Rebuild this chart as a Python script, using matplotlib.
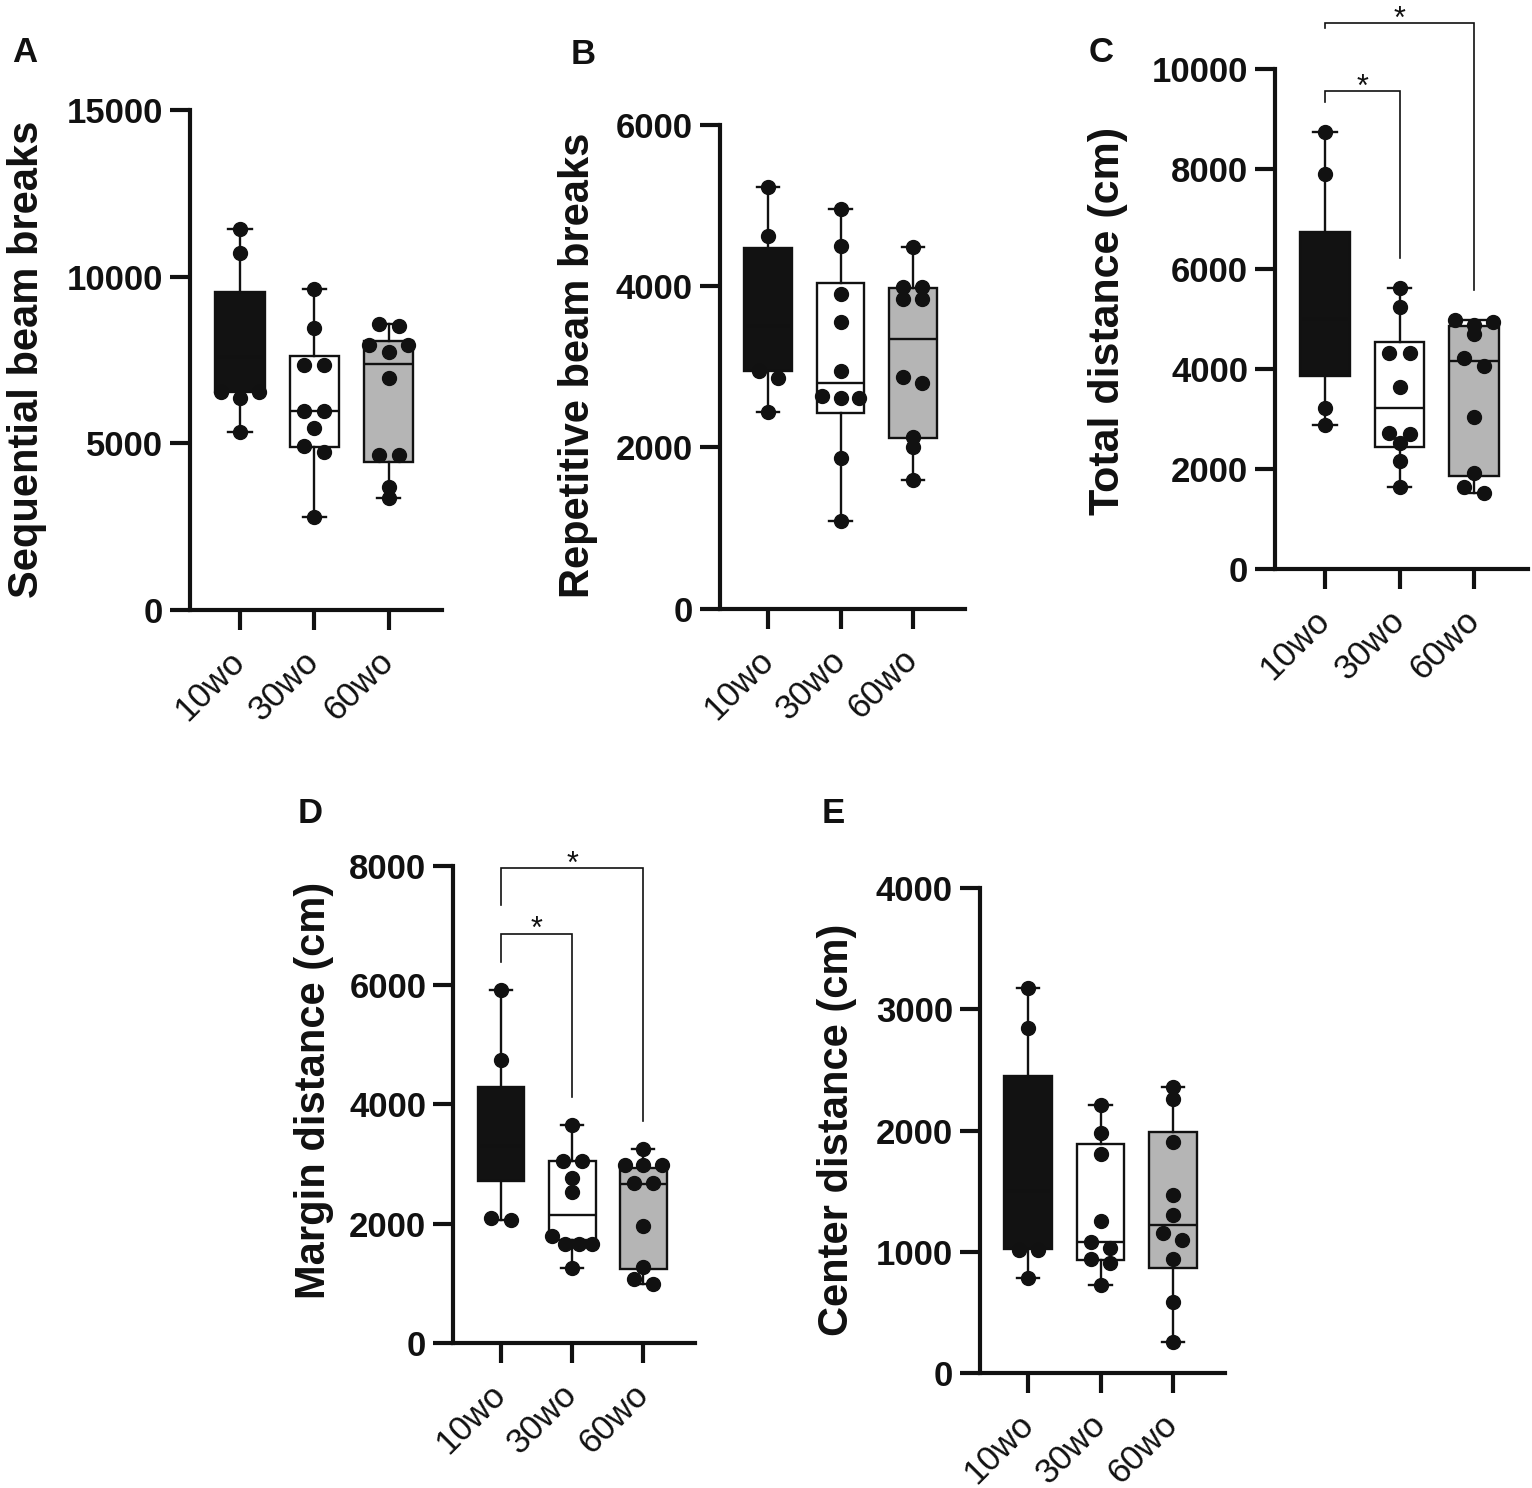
import numpy as np
import matplotlib
matplotlib.use("Agg")
import matplotlib.pyplot as plt

plt.rcParams['font.family'] = ['Liberation Sans', 'DejaVu Sans']

# ---------------- data ----------------
groups = ["10wo", "30wo", "60wo"]

# Panel A: Sequential beam breaks
A_10 = [11420, 10720, 6550, 6550, 6350, 5350]
A_30 = [9620, 8450, 7350, 7350, 5980, 5980, 5450, 4930, 4730, 2800]
A_60 = [8580, 8520, 7950, 7950, 7750, 6970, 4650, 4650, 3700, 3370]
A_q1 = [6550, 4900, 4430]
A_med = [7600, 5980, 7370]
A_q3 = [9550, 7620, 8070]

# Panel B: Repetitive beam breaks
B_10 = [5224, 4624, 2950, 2856, 2442]
B_30 = [4951, 4496, 3897, 3550, 2950, 2636, 2607, 2607, 1863, 1090]
B_60 = [4480, 3992, 3992, 3839, 3839, 2876, 2801, 2131, 2008, 1594]
B_q1 = [2950, 2421, 2112]
B_med = [3500, 2801, 3343]
B_q3 = [4467, 4033, 3971]

# Panel C: Total distance (cm)
C_10 = [8753, 7907, 3220, 2887]
C_30 = [5620, 5253, 4320, 4320, 3653, 2733, 2700, 2520, 2173, 1653]
C_60 = [4987, 4953, 4887, 4707, 4220, 4073, 3053, 1920, 1640, 1533]
C_q1 = [3867, 2453, 1867]
C_med = [5000, 3220, 4167]
C_q3 = [6753, 4540, 4867]

# Panel D: Margin distance (cm)
D_10 = [5916, 4742, 2090, 2060]
D_30 = [3653, 3055, 3055, 2760, 2536, 1793, 1654, 1654, 1654, 1251]
D_60 = [3246, 2983, 2983, 2983, 2686, 2686, 1960, 1278, 1067, 988]
D_q1 = [2720, 1726, 1240]
D_med = [3300, 2145, 2664]
D_q3 = [4285, 3055, 2927]

# Panel E: Center distance (cm)
E_10 = [3175, 2845, 1016, 1016, 782]
E_30 = [2212, 1978, 1808, 1255, 1084, 1030, 939, 906, 727]
E_60 = [2363, 2259, 1909, 1464, 1299, 1153, 1098, 942, 584, 259]
E_q1 = [1024, 928, 865]
E_med = [1500, 1084, 1222]
E_q3 = [2446, 1888, 1987]

# significance brackets: (x1, x2, bar height, left leg end, right leg end, star height, label)
C_sig = [(0, 1, 9573, 9353, 6220, 9820, "*"), (0, 2, 10933, 10820, 5587, 11187, "*")]
D_sig = [(0, 1, 6854, 6390, 4127, 7089, "*"), (0, 2, 7955, 7340, 3720, 8178, "*")]

panels = [
    dict(letter="A", ylabel="Sequential beam breaks", pts=[A_10, A_30, A_60],
         q1=A_q1, med=A_med, q3=A_q3, ymax=15000, ticks=[0, 5000, 10000, 15000], sig=[]),
    dict(letter="B", ylabel="Repetitive beam breaks", pts=[B_10, B_30, B_60],
         q1=B_q1, med=B_med, q3=B_q3, ymax=6000, ticks=[0, 2000, 4000, 6000], sig=[]),
    dict(letter="C", ylabel="Total distance (cm)", pts=[C_10, C_30, C_60],
         q1=C_q1, med=C_med, q3=C_q3, ymax=10000, ticks=[0, 2000, 4000, 6000, 8000, 10000], sig=C_sig),
    dict(letter="D", ylabel="Margin distance (cm)", pts=[D_10, D_30, D_60],
         q1=D_q1, med=D_med, q3=D_q3, ymax=8000, ticks=[0, 2000, 4000, 6000, 8000], sig=D_sig),
    dict(letter="E", ylabel="Center distance (cm)", pts=[E_10, E_30, E_60],
         q1=E_q1, med=E_med, q3=E_q3, ymax=4000, ticks=[0, 1000, 2000, 3000, 4000], sig=[]),
]

# ---------------- layout (pixels) ----------------
W, H = 1532, 1488
# (first category x, category spacing, y of top tick, y of zero)
layout = {
    "A": (240.0, 74.3, 110.0, 610.0),
    "B": (768.3, 72.2, 124.7, 608.6),
    "C": (1325.0, 74.5, 69.3, 569.3),
    "D": (501.0, 71.2, 865.7, 1342.9),
    "E": (1028.3, 72.2, 888.1, 1372.9),
}
letter_pos = {"A": (25, 53), "B": (583, 55), "C": (1101, 53), "D": (310, 814), "E": (833, 814)}
ylabel_pos = {"A": (27, 359, 30), "B": (578, 365, 30), "C": (1108, 321, 31),
              "D": (314, 1090, 30), "E": (837, 1130, 30)}
XL, XR = -0.67, 2.72

box_colors = ["#121212", "#ffffff", "#b5b5b5"]
ink = "#111111"
star_fs = 22

fig = plt.figure(figsize=(W / 100, H / 100), dpi=100)
fig.patch.set_facecolor("white")


def swarm_offsets(values, px_per_unit, thresh_px=9.0):
    vals = np.asarray(values, float)
    order = list(np.argsort(-vals, kind="stable"))
    grps, cur = [], [order[0]]
    for idx in order[1:]:
        if (vals[cur[0]] - vals[idx]) * px_per_unit < thresh_px:
            cur.append(idx)
        else:
            grps.append(cur)
            cur = [idx]
    grps.append(cur)
    off = np.zeros(len(vals))
    for g in grps:
        k = len(g)
        if k == 1:
            pos, step = [0.0], 0.0
        elif k == 3:
            pos, step = [-1.0, 1.0, 0.0], 0.26
        elif k == 2:
            pos, step = [-0.5, 0.5], 0.27
        else:
            pos, step = [i - (k - 1) / 2 for i in range(k)], 0.19
        for j, idx in enumerate(g):
            off[idx] = pos[j] * step
    return off


for p in panels:
    L = p["letter"]
    c0, sp, ytop, yzero = layout[L]
    left_px = c0 + XL * sp
    right_px = c0 + XR * sp
    ax = fig.add_axes([left_px / W, 1 - yzero / H, (right_px - left_px) / W, (yzero - ytop) / H])
    ax.set_xlim(XL, XR)
    ax.set_ylim(0, p["ymax"])
    ax.patch.set_alpha(0)

    stats = []
    for i in range(3):
        pts = p["pts"][i]
        stats.append(dict(q1=p["q1"][i], med=p["med"][i], q3=p["q3"][i],
                          whislo=min(pts), whishi=max(pts), fliers=[]))
    bp = ax.bxp(stats, positions=[0, 1, 2], widths=0.66, capwidths=0.31,
                patch_artist=True, showfliers=False,
                boxprops=dict(edgecolor=ink, linewidth=1.7),
                whiskerprops=dict(color=ink, linewidth=1.7),
                capprops=dict(color=ink, linewidth=1.7),
                medianprops=dict(color=ink, linewidth=1.7),
                zorder=2)
    for patch, col in zip(bp["boxes"], box_colors):
        patch.set_facecolor(col)

    ppu = (yzero - ytop) / p["ymax"]
    for i in range(3):
        vals = np.asarray(p["pts"][i], float)
        off = swarm_offsets(vals, ppu)
        ax.plot(i + off, vals, "o", ms=10, color=ink, mec=ink, zorder=4, clip_on=False)

    for (x1, x2, yb, yl, yr, ys, lab) in p["sig"]:
        ax.plot([x1, x1, x2, x2], [yl, yb, yb, yr], color=ink, lw=1.2, clip_on=False,
                solid_joinstyle="miter", zorder=3)
        ax.annotate(lab, xy=((x1 + x2) / 2, ys), xytext=(0, -0.58 * star_fs),
                    textcoords="offset points", ha="center", va="baseline",
                    fontsize=star_fs, color=ink, annotation_clip=False)

    # axes styling
    for s in ["top", "right"]:
        ax.spines[s].set_visible(False)
    for s in ["left", "bottom"]:
        ax.spines[s].set_linewidth(3.0)
        ax.spines[s].set_color(ink)
        ax.spines[s].set_capstyle("projecting")
    ax.set_yticks(p["ticks"])
    ax.set_yticklabels([str(t) for t in p["ticks"]], fontsize=25, fontweight="bold")
    ax.set_xticks([0, 1, 2])
    ax.set_xticklabels(groups, fontsize=25, rotation=45, ha="right",
                       va="center", rotation_mode="anchor")
    ax.tick_params(axis="y", length=14.4, width=3.0, color=ink, pad=5, labelcolor=ink)
    ax.tick_params(axis="x", length=14.4, width=3.0, color=ink, pad=19, labelcolor=ink)

    lx, ly = letter_pos[L]
    fig.text(lx / W, 1 - ly / H, L, fontsize=25, fontweight="bold", ha="center", va="center",
             color=ink)
    yx, yy, yfs = ylabel_pos[L]
    fig.text(yx / W, 1 - yy / H, p["ylabel"], fontsize=yfs, fontweight="bold", rotation=90,
             ha="center", va="center", color=ink)

fig.savefig("out.png", dpi=100, facecolor="white")
